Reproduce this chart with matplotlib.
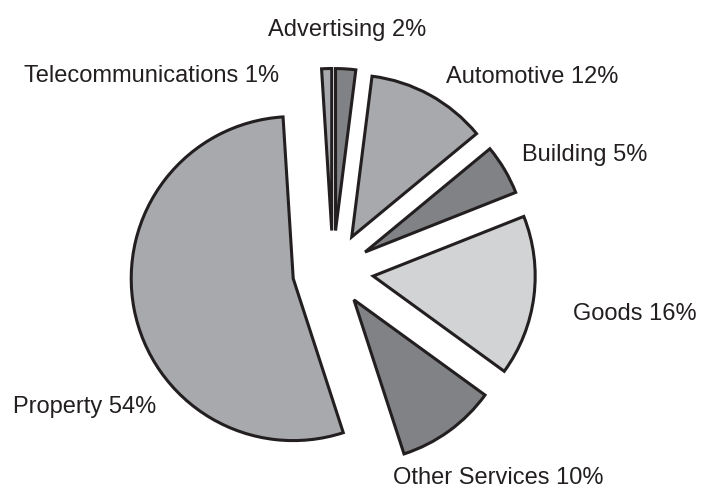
import matplotlib
matplotlib.use("Agg")
import matplotlib.pyplot as plt

# Advertising spend by sector (percent)
categories = ["Advertising", "Automotive", "Building", "Goods",
              "Other Services", "Property", "Telecommunications"]
shares = [2, 12, 5, 16, 10, 54, 1]

# wedge styling
fills = ["#808285", "#a7a9ac", "#808285", "#d1d3d4",
         "#808285", "#a7a9ac", "#a7a9ac"]
explode = [0.25, 0.24, 0.23, 0.25, 0.22, 0.25, 0.25]
ink = "#231f20"

W, H = 702, 488
R = 162.0            # pie radius in pixels
cx, cy = 333, 271    # pie centre in pixels (from top-left)

fig = plt.figure(figsize=(W / 100, H / 100), dpi=100)
ax = fig.add_axes([0, 0, 1, 1])

ax.pie(shares, explode=explode, colors=fills, startangle=90,
       counterclock=False, radius=1,
       wedgeprops=dict(edgecolor=ink, linewidth=2.2, joinstyle="miter"))

ax.set_xlim(-cx / R, (W - cx) / R)
ax.set_ylim(-(H - cy) / R, cy / R)
ax.set_aspect("equal", adjustable="datalim")
ax.axis("off")

# label anchors: (x px, baseline y px, horizontal alignment)
label_pos = {
    "Advertising": (347, 36, "center"),
    "Automotive": (446, 83, "left"),
    "Building": (522, 161, "left"),
    "Goods": (573, 320, "left"),
    "Other Services": (393, 484, "left"),
    "Property": (13, 413, "left"),
    "Telecommunications": (279, 82, "right"),
}

for name, val in zip(categories, shares):
    x, y, ha = label_pos[name]
    ax.text((x - cx) / R, (cy - y) / R, f"{name} {val}%",
            ha=ha, va="baseline", fontsize=17, color=ink,
            family=["Liberation Sans", "DejaVu Sans"])

fig.savefig("out.png", dpi=100, facecolor="white")
